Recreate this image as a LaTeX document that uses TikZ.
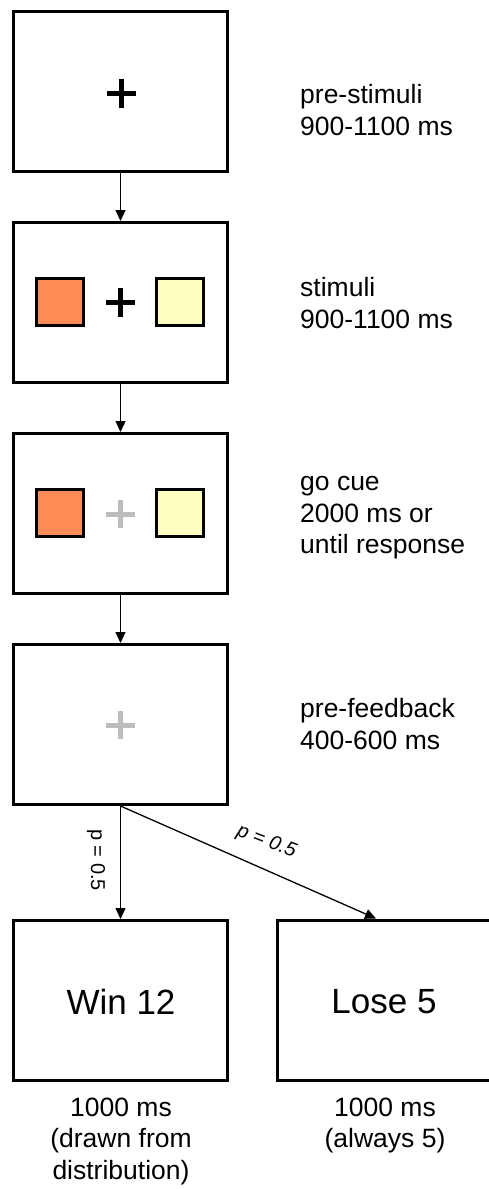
\documentclass[tikz,border=0pt]{standalone}
\usepackage{fontspec}
\setmainfont{Liberation Sans}
\usetikzlibrary{arrows.meta}
\definecolor{orangesq}{HTML}{FF8C55}
\definecolor{yellowsq}{HTML}{FFFFC0}
\definecolor{graycross}{HTML}{BDBDBD}
\begin{document}
\begin{tikzpicture}[x=1pt,y=-1pt,
  screen/.style={draw=black,line width=3pt,fill=white,minimum width=214pt,minimum height=160pt,inner sep=0pt},
  sq/.style={draw=black,line width=2.6pt,minimum width=47pt,minimum height=47pt,inner sep=0pt},
  lbl/.style={align=left,anchor=west,inner sep=0pt,font=\fontsize{26.5}{31.5}\selectfont},
  sub/.style={align=center,inner sep=0pt,font=\fontsize{26.5}{31.5}\selectfont},
  big/.style={font=\fontsize{35}{40}\selectfont},
  arr/.style={line width=1.3pt,-{Triangle[width=10pt,length=11pt]}},
  crossblack/.style={line width=5pt,black},
  crossgray/.style={line width=5pt,graycross},
  plbl/.style={inner sep=0pt,font=\fontsize{20}{22}\selectfont}
]
\useasboundingbox (0,0) rectangle (489,1189);
\fill[white] (0,0) rectangle (489,1189);
% screens
\node[screen] (s1) at (120.5,91.5) {};
\node[screen] (s2) at (120.5,302.5) {};
\node[screen] (s3) at (120.5,513.5) {};
\node[screen] (s4) at (120.5,724.5) {};
\node[screen] (win) at (120.5,1000.5) {};
\node[screen] (lose) at (384.5,1000.5) {};
% contents
\draw[crossblack] (106.5,93) -- (135.5,93) (121,78.5) -- (121,107.5);
\node[sq,fill=orangesq] (o2) at (60,302) {};
\node[sq,fill=yellowsq] (y2) at (180,302) {};
\draw[crossblack] (105.5,302) -- (134.5,302) (120,287.5) -- (120,316.5);
\node[sq,fill=orangesq] (o3) at (60,513) {};
\node[sq,fill=yellowsq] (y3) at (180,513) {};
\draw[crossgray] (105.5,514) -- (134.5,514) (120,500) -- (120,528);
\draw[crossgray] (105.5,725) -- (134.5,725) (120,711) -- (120,739);
\node[big] (wt) at (121,1002) {Win 12};
\node[big] (lt) at (384,1002) {Lose 5};
% right labels
\node[lbl] (l1) at (300,110) {pre-stimuli\\900-1100 ms};
\node[lbl] (l2) at (300,303) {stimuli\\900-1100 ms};
\node[lbl] (l3) at (300,518) {go cue\\2000 ms or\\until response};
\node[lbl] (l4) at (300,724) {pre-feedback\\400-600 ms};
% bottom labels
\node[sub] (b1) at (121,1141) {1000 ms\\(drawn from\\distribution)};
\node[sub] (b2) at (385,1125.5) {1000 ms\\(always 5)};
% arrows
\draw[arr] (s1.south) -- (s2.north);
\draw[arr] (s2.south) -- (s3.north);
\draw[arr] (s3.south) -- (s4.north);
\draw[arr] (s4.south) -- (win.north);
\coordinate (lt0) at (376,918.5);
\draw[arr] (s4.south) -- (lt0);
\node[plbl,rotate=-90] (p1) at (96,860) {p = 0.5};
\node[plbl,rotate=-21,font=\fontsize{20}{22}\selectfont\itshape] (p2) at (266.5,842) {p = 0.5};
\end{tikzpicture}
\end{document}
